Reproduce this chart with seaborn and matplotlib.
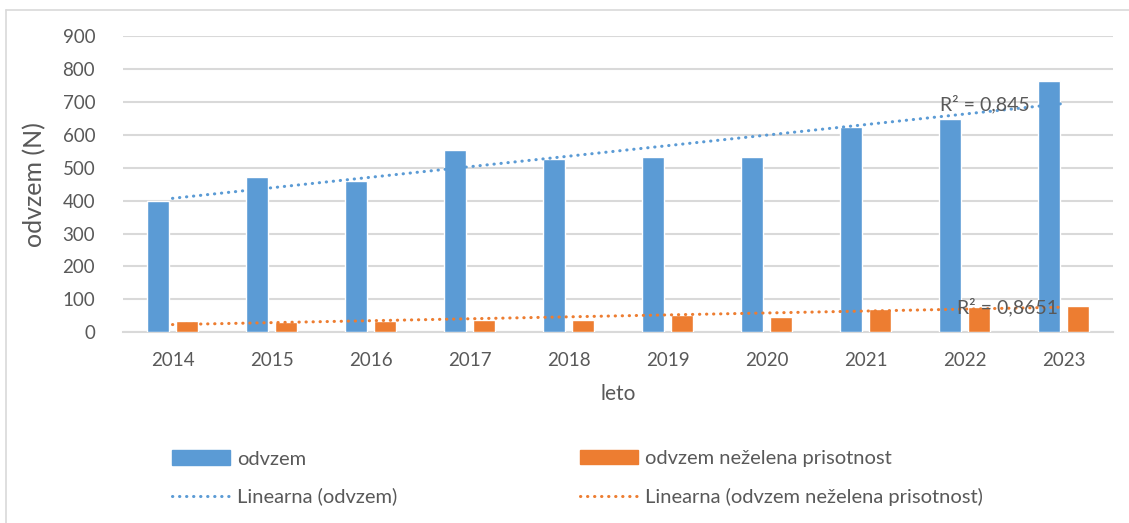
import matplotlib
matplotlib.use("Agg")
import matplotlib.pyplot as plt
import seaborn as sns
import numpy as np
import pandas as pd
from matplotlib.patches import Patch
from matplotlib.lines import Line2D

# Podatki (odčitani z grafa)
leta = ["2014", "2015", "2016", "2017", "2018", "2019", "2020", "2021", "2022", "2023"]
odvzem = [398, 473, 459, 553, 526, 533, 533, 623, 647, 764]
odvzem_nezelena = [33, 30, 34, 38, 37, 53, 47, 72, 76, 79]
r2_labels = ["R² = 0,845", "R² = 0,8651"]

BLUE = "#5B9BD5"
ORANGE = "#ED7D31"
GRAY = "#595959"
GRID = "#D9D9D9"

sns.set_theme(style="white")
plt.rcParams["font.family"] = ["Lato", "DejaVu Sans"]

df = pd.DataFrame({
    "leto": leta * 2,
    "vrednost": odvzem + odvzem_nezelena,
    "serija": ["odvzem"] * len(leta) + ["odvzem neželena prisotnost"] * len(leta),
})

W, H = 1129, 523
fig = plt.figure(figsize=(W / 100, H / 100), dpi=100)
ax = fig.add_axes([123 / W, 190.7 / H, 990 / W, 296.3 / H])

sns.barplot(data=df, x="leto", y="vrednost", hue="serija",
            palette=[BLUE, ORANGE], width=0.6, gap=0.26,
            saturation=1, legend=False, ax=ax, zorder=3)

# linearni trendi (kot v Excelu)
xs = np.arange(len(leta))
dots = (0, (0.1, 2.2))
for vals, col in [(odvzem, BLUE), (odvzem_nezelena, ORANGE)]:
    k, n = np.polyfit(xs, vals, 1)
    ax.plot(xs, k * xs + n, color=col, lw=2.2, linestyle=dots,
            dash_capstyle="round", zorder=4)

ax.text(7.75, 692, r2_labels[0], color=GRAY, fontsize=14, ha="left", va="center", zorder=5)
ax.text(7.92, 77, r2_labels[1], color=GRAY, fontsize=14, ha="left", va="center", zorder=5)

ax.set_ylim(0, 900)
ax.set_xlim(-0.5, len(leta) - 0.5)
ax.set_yticks(range(0, 901, 100))
ax.yaxis.grid(True, color=GRID, lw=1.5)
ax.set_axisbelow(True)
for s in ["top", "right", "left"]:
    ax.spines[s].set_visible(False)
ax.spines["bottom"].set_color(GRID)
ax.spines["bottom"].set_linewidth(1.5)
ax.tick_params(axis="both", length=0, labelsize=13.5, colors=GRAY)
ax.tick_params(axis="y", pad=20)
ax.tick_params(axis="x", pad=14)
ax.set_xlabel("leto", fontsize=15, color=GRAY, labelpad=11)
ax.set_ylabel("odvzem (N)", fontsize=18, color=GRAY, labelpad=12)

# legenda v dveh stolpcih
leg_kw = dict(loc="center left", frameon=False, fontsize=14.5, labelcolor=GRAY,
              handlelength=2.9, handletextpad=0.35, labelspacing=1.0,
              borderpad=0, borderaxespad=0)
fig.legend([Patch(color=BLUE), Line2D([0], [0], color=BLUE, lw=2.2, linestyle=dots, dash_capstyle="round")],
           ["odvzem", "Linearna (odvzem)"],
           bbox_to_anchor=(172 / W, 1 - 478 / H), **leg_kw)
fig.legend([Patch(color=ORANGE), Line2D([0], [0], color=ORANGE, lw=2.2, linestyle=dots, dash_capstyle="round")],
           ["odvzem neželena prisotnost", "Linearna (odvzem neželena prisotnost)"],
           bbox_to_anchor=(580 / W, 1 - 478 / H), **leg_kw)

# okvir grafikona
fig.add_artist(Line2D([6 / W, 6 / W], [0, 1 - 10 / H], transform=fig.transFigure, color=GRID, lw=1.2))
fig.add_artist(Line2D([6 / W, 1], [1 - 10 / H, 1 - 10 / H], transform=fig.transFigure, color=GRID, lw=1.2))

fig.savefig("out.png", dpi=100)
plt.close(fig)
